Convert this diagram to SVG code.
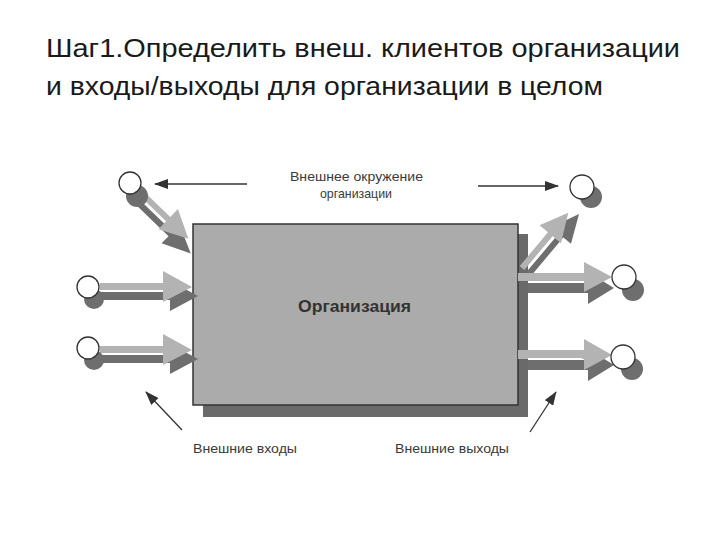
<svg xmlns="http://www.w3.org/2000/svg" width="720" height="540" viewBox="0 0 720 540">
<defs>
<style>
.title{font-family:"Liberation Sans",Arial,sans-serif;font-size:25px;fill:#1a1a1a}
.lbl{font-family:"Liberation Sans",Arial,sans-serif;font-size:13.5px;fill:#3a3a3a}
.org{font-family:"Liberation Sans",Arial,sans-serif;font-size:16px;font-weight:bold;fill:#333}
.light{fill:#b3b3b3}
.dark{fill:#6e6e6e}
.hl{stroke:#fff;stroke-width:2}
.node{fill:#fff;stroke:#333;stroke-width:1.3}
.blob{fill:#6e6e6e}
.thin{stroke:#333;stroke-width:1.3;fill:none;marker-end:url(#ah)}
</style>
<marker id="ah" viewBox="0 0 14 10" refX="13" refY="5" markerWidth="14" markerHeight="10" markerUnits="userSpaceOnUse" orient="auto">
<path d="M0,0 L14,5 L0,10 Z" fill="#333"/>
</marker>
</defs>
<rect width="720" height="540" fill="#fff"/>
<text class="title" x="46" y="57" textLength="634" lengthAdjust="spacingAndGlyphs">Шаг1.Определить внеш. клиентов организации</text>
<text class="title" x="46" y="95" textLength="557" lengthAdjust="spacingAndGlyphs">и входы/выходы для организации в целом</text>

<g id="organization">
<rect x="203" y="234" width="325" height="183" fill="#6a6a6a"/>
<rect x="193" y="224" width="325" height="181" fill="#ababab" stroke="#333" stroke-width="1.5"/>
<text class="org" x="298" y="312" textLength="113" lengthAdjust="spacingAndGlyphs">Организация</text>
</g>

<g id="connectors">
<!-- top-left diagonal input -->
<g transform="translate(138,190) rotate(44)">
<polygon class="dark" points="0,6 54,6 54,-4 82,9 54,22 54,12 0,12"/>
<polygon class="light" points="0,-3 42,-3 42,-14 70,0 42,14 42,3 0,3"/>
</g>
<!-- left middle input -->
<polygon class="dark" points="100,292 170,292 170,281 198,296 170,311 170,300 100,300"/>
<polygon class="light" points="100,283 163,283 163,271 192,287 163,302 163,290 100,290"/>
<line class="hl" x1="128" y1="291" x2="162" y2="291"/>
<!-- left bottom input -->
<polygon class="dark" points="100,355 170,355 170,344 198,359 170,374 170,363 100,363"/>
<polygon class="light" points="100,346 163,346 163,334 192,350 163,365 163,353 100,353"/>
<line class="hl" x1="110" y1="354" x2="162" y2="354"/>
<!-- right top diagonal output -->
<g transform="translate(522,268) rotate(-50)">
<polygon class="dark" points="0,6 50,6 50,-4 78,9 50,22 50,12 0,12"/>
<polygon class="light" points="0,-3 44,-3 44,-14 72,0 44,14 44,3 0,3"/>
<line class="hl" x1="10" y1="4.5" x2="44" y2="4.5"/>
</g>
<!-- right middle output -->
<polygon class="dark" points="528,283 588,283 588,272 614,288 588,304 588,293 528,293"/>
<polygon class="light" points="518,273 584,273 584,262 612,277 584,292 584,281 518,281"/>
<line class="hl" x1="528" y1="282" x2="582" y2="282"/>
<!-- right bottom output -->
<polygon class="dark" points="528,360 588,360 588,349 614,365 588,381 588,370 528,370"/>
<polygon class="light" points="518,350 584,350 584,339 612,355 584,370 584,359 518,359"/>
<line class="hl" x1="528" y1="359" x2="582" y2="359"/>
<!-- thin pointer arrows -->
<line class="thin" x1="247" y1="184" x2="155" y2="184"/>
<line class="thin" x1="478" y1="186" x2="558" y2="186"/>
<line class="thin" x1="182" y1="430" x2="146" y2="392"/>
<line class="thin" x1="530" y1="432" x2="556" y2="392"/>
</g>

<g id="node-top-left"><circle class="blob" cx="137" cy="196" r="11"/><circle class="node" cx="130" cy="183" r="11"/></g>
<g id="node-left-middle"><circle class="blob" cx="94" cy="299" r="10"/><circle class="node" cx="88" cy="287" r="11"/></g>
<g id="node-left-bottom"><circle class="blob" cx="94" cy="360" r="10"/><circle class="node" cx="88" cy="348" r="11"/></g>
<g id="node-right-top"><circle class="blob" cx="591" cy="197" r="11"/><circle class="node" cx="582" cy="187" r="12"/></g>
<g id="node-right-middle"><circle class="blob" cx="633" cy="290" r="11"/><circle class="node" cx="624" cy="277" r="12"/></g>
<g id="node-right-bottom"><circle class="blob" cx="632" cy="369" r="11"/><circle class="node" cx="623" cy="357" r="12"/></g>

<g id="labels">
<text class="lbl" x="290" y="181" textLength="133" lengthAdjust="spacingAndGlyphs">Внешнее окружение</text>
<text class="lbl" x="320" y="198" textLength="72" lengthAdjust="spacingAndGlyphs">организации</text>
<text class="lbl" x="193" y="453" textLength="104" lengthAdjust="spacingAndGlyphs">Внешние входы</text>
<text class="lbl" x="395" y="453" textLength="114" lengthAdjust="spacingAndGlyphs">Внешние выходы</text>
</g>
</svg>
